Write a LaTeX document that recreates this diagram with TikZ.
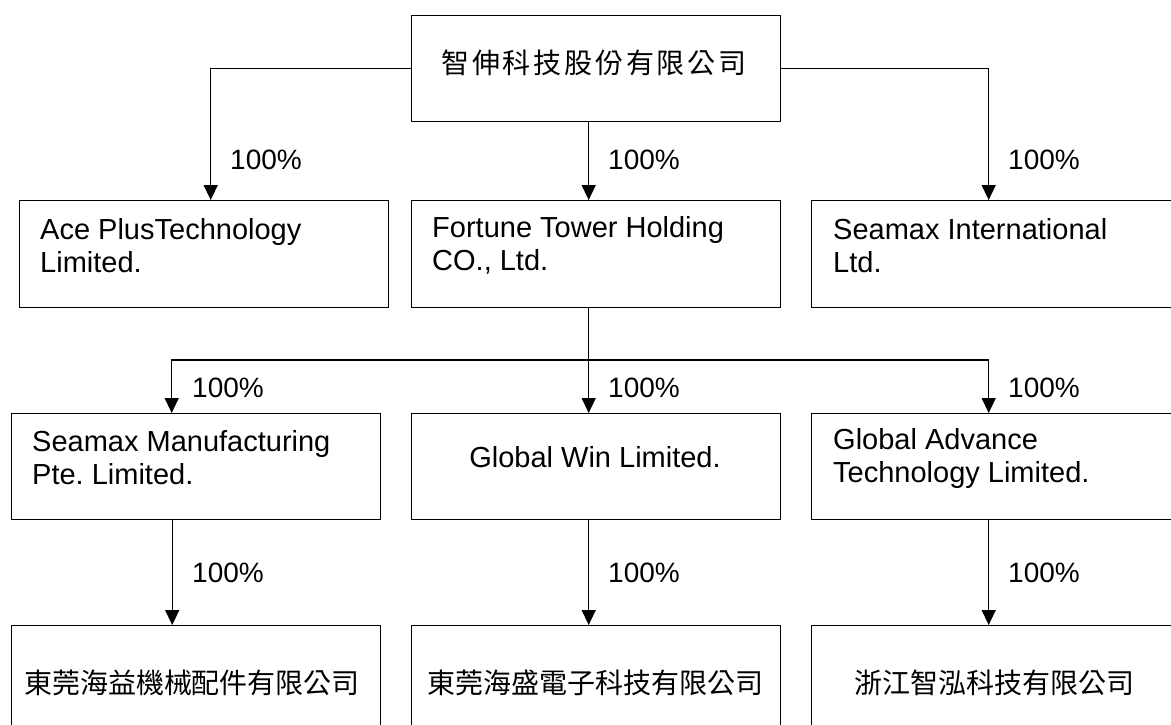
\documentclass[tikz,border=0pt]{standalone}
\usepackage{fontspec}
\setmainfont{Liberation Sans}
\newfontfamily\cjk{Noto Sans CJK TC}
\newfontfamily\cjkwide[LetterSpace=10]{Noto Sans CJK TC}
\usetikzlibrary{arrows.meta,calc}
\frenchspacing
\begin{document}
\begin{tikzpicture}[x=1pt,y=-1pt,
  orgbox/.style={draw,line width=1.4pt,inner sep=0pt,anchor=north west,minimum width=369pt},
  txt/.style={font=\fontsize{29}{33}\selectfont,inner sep=0pt,align=left},
  cjktxt/.style={font=\fontsize{28}{33}\selectfont\cjk,inner sep=0pt},
  pct/.style={font=\fontsize{28}{33}\selectfont,inner sep=0pt,anchor=west},
  conn/.style={line width=1.4pt},
  arr/.style={line width=1.4pt,-{Triangle[length=15pt,width=14pt]}}]
\useasboundingbox (0,0) rectangle (1171,724);
\clip (0,0) rectangle (1171,724);
% boxes
\node[orgbox,minimum height=106pt] (top) at (411,15) {};
\node[orgbox,minimum height=107pt] (ace) at (19,200) {};
\node[orgbox,minimum height=107pt] (ft) at (411,200) {};
\node[orgbox,minimum height=107pt] (sm) at (811,200) {};
\node[orgbox,minimum height=106pt] (smp) at (11,413) {};
\node[orgbox,minimum height=106pt] (gw) at (411,413) {};
\node[orgbox,minimum height=106pt] (ga) at (811,413) {};
\node[orgbox,minimum height=140pt] (b1) at (11,625) {};
\node[orgbox,minimum height=140pt] (b2) at (411,625) {};
\node[orgbox,minimum height=140pt] (b3) at (811,625) {};
% texts
\node[cjktxt,font=\fontsize{28}{33}\selectfont\cjkwide] (toptxt) at (594,63) {智伸科技股份有限公司};
\node[txt,anchor=west] (acetxt) at (40,245.5) {Ace PlusTechnology\\Limited.};
\node[txt,anchor=west] (fttxt) at (432,245.5) {Fortune Tower Holding\\CO., Ltd.};
\node[txt,anchor=west] (smtxt) at (833,245.5) {Seamax International\\Ltd.};
\node[txt,anchor=west] (smptxt) at (32,458) {Seamax Manufacturing\\Pte. Limited.};
\node[txt] (gwtxt) at (595,457) {Global Win Limited.};
\node[txt,anchor=west] (gatxt) at (833,458) {Global Advance\\Technology Limited.};
\node[cjktxt] (b1txt) at (192,683) {東莞海益機械配件有限公司};
\node[cjktxt] (b2txt) at (595.5,683) {東莞海盛電子科技有限公司};
\node[cjktxt] (b3txt) at (994,683) {浙江智泓科技有限公司};
% connectors level 1
\draw[arr] (top.west) -| ([xshift=6.5pt]ace.north);
\draw[arr] ([xshift=-7.5pt]top.south) -- ([xshift=-7.5pt]ft.north);
\draw[arr] (top.east) -| ([xshift=-7.5pt]sm.north);
\node[pct] (p1) at (230,160) {100\%};
\node[pct] (p2) at (608,160) {100\%};
\node[pct] (p3) at (1008,160) {100\%};
% connectors level 2
\coordinate (j) at ([xshift=-7.5pt]ft.south |- 0,360);
\draw[conn] ([xshift=-7.5pt]ft.south) -- (j);
\draw[arr] (j) -| ([xshift=-24.5pt]smp.north);
\draw[arr] (j) -- ([xshift=-7.5pt]gw.north);
\draw[arr] (j) -| ([xshift=-7.5pt]ga.north);
\node[pct] (p4) at (192,388) {100\%};
\node[pct] (p5) at (608,388) {100\%};
\node[pct] (p6) at (1008,388) {100\%};
% connectors level 3
\draw[arr] ([xshift=-24pt]smp.south) -- ([xshift=-24pt]b1.north);
\draw[arr] ([xshift=-7.5pt]gw.south) -- ([xshift=-7.5pt]b2.north);
\draw[arr] ([xshift=-7.5pt]ga.south) -- ([xshift=-7.5pt]b3.north);
\node[pct] (p7) at (192,573) {100\%};
\node[pct] (p8) at (608,573) {100\%};
\node[pct] (p9) at (1008,573) {100\%};
\end{tikzpicture}
\end{document}
